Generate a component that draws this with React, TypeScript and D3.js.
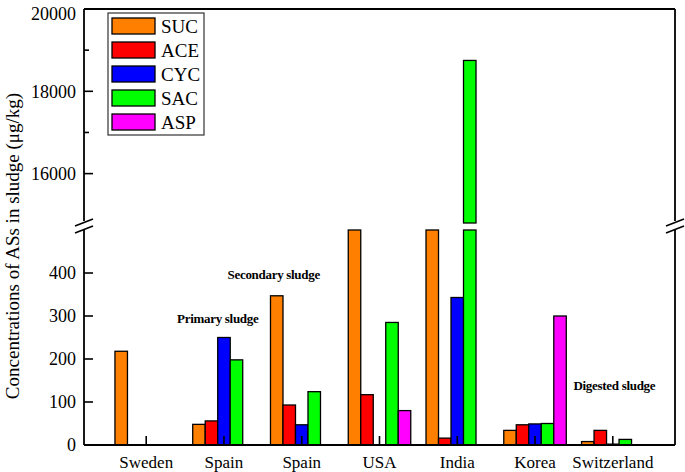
import React from 'react';
import * as d3 from 'd3';

// sweeteners (series) and sampling sites (groups)
const series = ['SUC', 'ACE', 'CYC', 'SAC', 'ASP'];
const colors = ['#FF8000', '#FF0000', '#0000FF', '#00FF00', '#FF00FF'];
const sites = ['Sweden', 'Spain', 'Spain', 'USA', 'India', 'Korea', 'Switzerland'];

// µg/kg; 0 = not reported
// USA / India SUC fall inside the axis break (exact value not visible)
const sucValues = [218, 48, 347, 1000, 1000, 34, 8];
const aceValues = [0, 56, 93, 117, 16, 47, 34];
const cycValues = [0, 250, 47, 0, 343, 49, 2];
const sacValues = [0, 198, 124, 285, 18750, 50, 13];
const aspValues = [0, 0, 0, 80, 0, 300, 0];
const values = [sucValues, aceValues, cycValues, sacValues, aspValues];

const lowerTicks = [0, 100, 200, 300, 400];
const upperTicks = [16000, 18000, 20000];
const upperMinor = [17000, 19000];

// annotation anchor: fractional site index, value on the lower axis
const notes = [
  { text: 'Primary sludge', site: 0.92, value: 284 },
  { text: 'Secondary sludge', site: 1.64, value: 387 },
  { text: 'Digested sludge', site: 6.02, value: 128 },
];

const W = 685;
const H = 472;
const left = 84;
const right = 675;
const top = 9;
const bottom = 445;
const serif = 'Liberation Serif';

const App: React.FC = () => {
  const x = d3.scalePoint<number>().domain(d3.range(sites.length)).range([left, right]).padding(0.8);
  const xf = d3.scaleLinear().domain([0, sites.length - 1]).range([x(0) as number, x(sites.length - 1) as number]);
  const inner = d3.scaleBand<string>().domain(series).range([-31.25, 31.25]);
  const yLow = d3.scaleLinear().domain([0, 500]).range([bottom, 230]);
  const yUp = d3.scaleLinear().domain([14800, 20000]).range([223, top]);
  const lowMax = 500;
  const upMin = 14800;

  const breakMarks = (cx: number) =>
    [222, 229].map((cy, i) => (
      <line key={`${cx}-${i}`} x1={cx - 9} y1={cy + 4} x2={cx + 9} y2={cy - 3} stroke="#000" strokeWidth={1.6} />
    ));

  return (
    <svg width={W} height={H} style={{ position: 'absolute', left: 0, top: 0, background: '#fff' }}>
      {/* bars */}
      {series.map((s, si) =>
        values[si].map((v, gi) => {
          if (!v) return null;
          const bx = (x(gi) as number) + (inner(s) as number);
          const bw = inner.bandwidth();
          const yTop = v > lowMax ? yLow(lowMax) : yLow(v);
          return (
            <g key={`${s}-${gi}`}>
              <rect x={bx} y={yTop} width={bw} height={bottom - yTop} fill={colors[si]} stroke="#000" strokeWidth={1.3} />
              {v >= upMin && (
                <rect x={bx} y={yUp(v)} width={bw} height={yUp(upMin) - yUp(v)} fill={colors[si]} stroke="#000" strokeWidth={1.3} />
              )}
            </g>
          );
        })
      )}

      {/* frame: left axis with break, bottom, top, right */}
      <line x1={left} y1={top} x2={left} y2={221} stroke="#000" strokeWidth={1.8} />
      <line x1={left} y1={230} x2={left} y2={bottom} stroke="#000" strokeWidth={1.8} />
      <line x1={right} y1={top} x2={right} y2={221} stroke="#000" strokeWidth={1.8} />
      <line x1={right} y1={230} x2={right} y2={bottom} stroke="#000" strokeWidth={1.8} />
      <line x1={left} y1={top} x2={right} y2={top} stroke="#000" strokeWidth={1.8} />
      <line x1={left} y1={bottom} x2={right} y2={bottom} stroke="#000" strokeWidth={1.8} />
      {breakMarks(left)}
      {breakMarks(right)}

      {/* y ticks */}
      {lowerTicks.map((t) => (
        <g key={`lt${t}`} transform={`translate(0,${yLow(t)})`}>
          <line x1={left} x2={left + 9} stroke="#000" strokeWidth={1.6} />
          <text x={left - 8} dy="0.35em" textAnchor="end" fontSize={18} fontFamily={serif}>{t}</text>
        </g>
      ))}
      {upperTicks.map((t) => (
        <g key={`ut${t}`} transform={`translate(0,${yUp(t)})`}>
          <line x1={left} x2={left + 9} stroke="#000" strokeWidth={1.6} />
          <text x={left - 8} dy={t === 20000 ? '0.6em' : '0.35em'} textAnchor="end" fontSize={18} fontFamily={serif}>{t}</text>
        </g>
      ))}
      {upperMinor.map((t) => (
        <line key={`um${t}`} x1={left} x2={left + 5} y1={yUp(t)} y2={yUp(t)} stroke="#000" strokeWidth={1.6} />
      ))}

      {/* x ticks and labels */}
      {sites.map((s, i) => (
        <g key={`x${i}`} transform={`translate(${x(i)},0)`}>
          <line y1={bottom} y2={bottom - 9} stroke="#000" strokeWidth={1.6} />
          <text y={468} textAnchor="middle" fontSize={17} fontFamily={serif}>{s}</text>
        </g>
      ))}

      {/* y title */}
      <text transform="translate(19,246) rotate(-90)" textAnchor="middle" fontSize={19} fontFamily={serif}>
        Concentrations of ASs in sludge (μg/kg)
      </text>

      {/* annotations */}
      {notes.map((n) => (
        <text key={n.text} x={xf(n.site)} y={yLow(n.value)} textAnchor="middle" fontSize={13} fontWeight="bold" letterSpacing={-0.3} fontFamily={serif}>
          {n.text}
        </text>
      ))}

      {/* legend */}
      <rect x={108} y={13} width={96} height={122} fill="#fff" stroke="#333" strokeWidth={1.2} />
      {series.map((s, i) => (
        <g key={`lg${s}`} transform={`translate(0,${26 + i * 24})`}>
          <rect x={112} y={-8} width={43} height={16} fill={colors[i]} stroke="#000" strokeWidth={1.3} />
          <text x={161} dy="0.35em" fontSize={19} fontFamily={serif}>{s}</text>
        </g>
      ))}
    </svg>
  );
};

export default App;
